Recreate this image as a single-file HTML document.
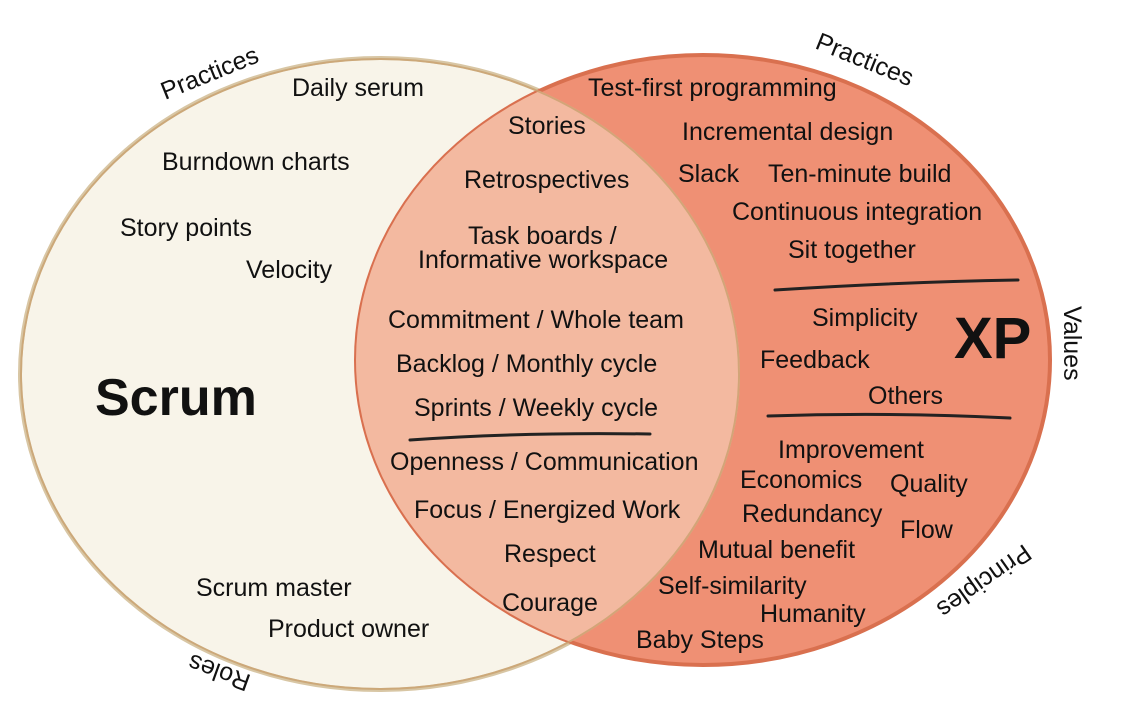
<!DOCTYPE html>
<html><head><meta charset="utf-8"><style>
html,body{margin:0;padding:0;background:#fff;}
svg{display:block}
text{font-family:"Liberation Sans",sans-serif;fill:#111;font-size:25px;}
</style></head><body>
<svg width="1126" height="710" viewBox="0 0 1126 710">
<defs>
<clipPath id="cl"><ellipse cx="380" cy="374" rx="360" ry="316"/></clipPath>
</defs>
<ellipse cx="380" cy="374" rx="360" ry="316" fill="#f8f4e9" stroke="#d8c6a4" stroke-width="4"/>
<ellipse cx="703" cy="360" rx="347" ry="305" fill="#ef9074" stroke="#d9704f" stroke-width="4"/>
<ellipse cx="703" cy="360" rx="347" ry="305" fill="#f3b9a0" clip-path="url(#cl)"/>
<ellipse cx="380" cy="374" rx="360" ry="316" fill="none" stroke="#c9a06e" stroke-width="4" clip-path="url(#cl)" opacity="0.8"/>
<g stroke="#222" stroke-width="3" fill="none" stroke-linecap="round">
<path d="M410 440 Q520 432 650 434"/>
<path d="M775 290 Q900 282 1018 280"/>
<path d="M768 416 Q890 412 1010 418"/>
</g>
<text x="165" y="100" transform="rotate(-22 165 100)">Practices</text>
<text x="292" y="96">Daily serum</text>
<text x="162" y="170">Burndown charts</text>
<text x="120" y="236">Story points</text>
<text x="246" y="278">Velocity</text>
<text x="95" y="415" style="font-size:52px;font-weight:bold">Scrum</text>
<text x="196" y="596">Scrum master</text>
<text x="268" y="637">Product owner</text>
<text x="305" y="715" transform="rotate(200 275 700)">Roles</text>

<text x="508" y="134">Stories</text>
<text x="464" y="188">Retrospectives</text>
<text x="468" y="244">Task boards /</text>
<text x="418" y="268">Informative workspace</text>
<text x="388" y="328">Commitment / Whole team</text>
<text x="396" y="372">Backlog  / Monthly cycle</text>
<text x="414" y="416">Sprints / Weekly cycle</text>
<text x="390" y="470">Openness / Communication</text>
<text x="414" y="518">Focus / Energized Work</text>
<text x="504" y="562">Respect</text>
<text x="502" y="611">Courage</text>

<text x="814" y="48" transform="rotate(22 814 48)">Practices</text>
<text x="588" y="96">Test-first programming</text>
<text x="682" y="140">Incremental design</text>
<text x="678" y="182">Slack</text>
<text x="768" y="182">Ten-minute build</text>
<text x="732" y="220">Continuous integration</text>
<text x="788" y="258">Sit together</text>
<text x="812" y="326">Simplicity</text>
<text x="954" y="358" style="font-size:58px;font-weight:bold">XP</text>
<text x="760" y="368">Feedback</text>
<text x="868" y="404">Others</text>
<text x="1064" y="306" transform="rotate(90 1064 306)">Values</text>
<text x="778" y="458">Improvement</text>
<text x="740" y="488">Economics</text>
<text x="890" y="492">Quality</text>
<text x="742" y="522">Redundancy</text>
<text x="900" y="538">Flow</text>
<text x="698" y="558">Mutual benefit</text>
<text x="658" y="594">Self-similarity</text>
<text x="760" y="622">Humanity</text>
<text x="636" y="648">Baby Steps</text>
<text x="1060" y="468" transform="rotate(145 1030 500)">Principles</text>
</svg>
</body></html>
